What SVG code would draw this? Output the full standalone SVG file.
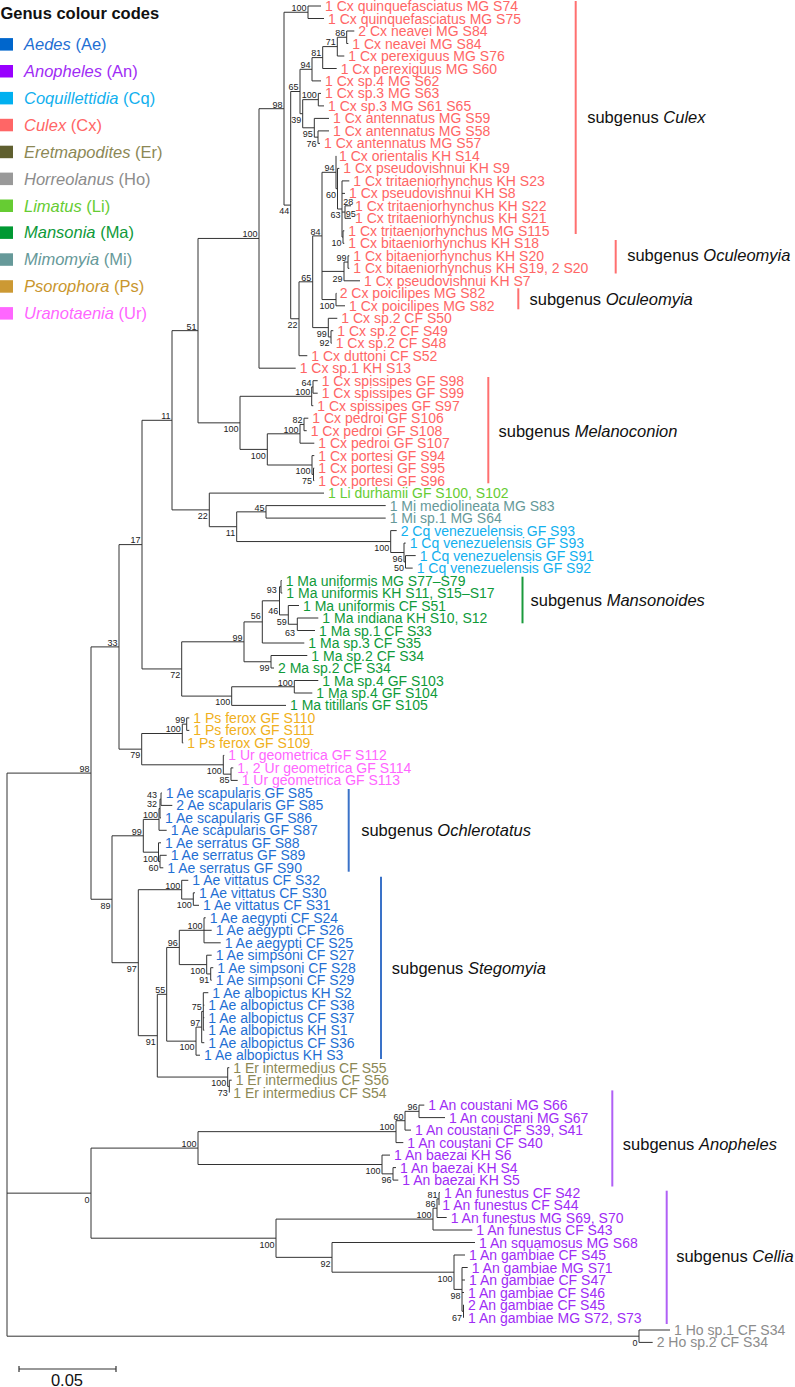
<svg xmlns="http://www.w3.org/2000/svg" width="795" height="1387" viewBox="0 0 795 1387">
<style>
.br{fill:none;stroke:#333;stroke-width:1}
.bs{font-family:"Liberation Sans",Arial,sans-serif;font-size:9px;fill:#222;text-anchor:end}
.bm{font-family:"Liberation Sans",Arial,sans-serif;font-size:9px;fill:#222;text-anchor:middle}
.lf{font-family:"Liberation Sans",Arial,sans-serif;font-size:14px}
.lg{font-family:"Liberation Sans",Arial,sans-serif;font-size:16.5px}
.sg{font-family:"Liberation Sans",Arial,sans-serif;font-size:16.5px;fill:#111}
.it{font-style:italic}
.bar{stroke-width:2}
.cx{fill:#ff6666}.li{fill:#66cc33}.mi{fill:#669999}.cq{fill:#12b0ee}.ma{fill:#0f9a3a}.ps{fill:#f0b020}.ur{fill:#ff66ff}.ae{fill:#1f6fd3}.er{fill:#8c8855}.an{fill:#9f2cf5}.ho{fill:#8c8c8c}
</style>
<rect width="795" height="1387" fill="#fff"/>
<g id="legend">
<text x="0.5" y="19.3" class="lg" font-weight="bold" fill="#111">Genus colour codes</text>
<rect x="0" y="38.1" width="13" height="12.5" fill="#0066cc"/><text x="24" y="50.1" class="lg ae"><tspan class="it">Aedes</tspan> (Ae)</text>
<rect x="0" y="65" width="13" height="12.5" fill="#9900ff"/><text x="24" y="77" class="lg an"><tspan class="it">Anopheles</tspan> (An)</text>
<rect x="0" y="91.9" width="13" height="12.5" fill="#00b0f0"/><text x="24" y="103.9" class="lg cq"><tspan class="it">Coquillettidia</tspan> (Cq)</text>
<rect x="0" y="118.8" width="13" height="12.5" fill="#ff6666"/><text x="24" y="130.8" class="lg cx"><tspan class="it">Culex</tspan> (Cx)</text>
<rect x="0" y="145.7" width="13" height="12.5" fill="#5f5f2f"/><text x="24" y="157.7" class="lg er"><tspan class="it">Eretmapodites</tspan> (Er)</text>
<rect x="0" y="172.6" width="13" height="12.5" fill="#999999"/><text x="24" y="184.6" class="lg ho"><tspan class="it">Horreolanus</tspan> (Ho)</text>
<rect x="0" y="199.5" width="13" height="12.5" fill="#66cc33"/><text x="24" y="211.5" class="lg li"><tspan class="it">Limatus</tspan> (Li)</text>
<rect x="0" y="226.4" width="13" height="12.5" fill="#009933"/><text x="24" y="238.4" class="lg ma"><tspan class="it">Mansonia</tspan> (Ma)</text>
<rect x="0" y="253.3" width="13" height="12.5" fill="#669999"/><text x="24" y="265.3" class="lg mi"><tspan class="it">Mimomyia</tspan> (Mi)</text>
<rect x="0" y="280.2" width="13" height="12.5" fill="#cc9933"/><text x="24" y="292.2" class="lg" fill="#c9962e"><tspan class="it">Psorophora</tspan> (Ps)</text>
<rect x="0" y="307.1" width="13" height="12.5" fill="#ff66ff"/><text x="24" y="319.1" class="lg ur"><tspan class="it">Uranotaenia</tspan> (Ur)</text>
</g>
<g id="connectors" class="br">
<path d="M308 6V18.5M308 6H321M308 18.5H324"/>
<path d="M284 12.25V205.1M284 12.25H308M284 205.1H290.7"/>
<path d="M346.7 31V43.5M346.7 31H354.3M346.7 43.5H348.3"/>
<path d="M337.3 37.25V56M337.3 37.25H346.7M337.3 56H344.3"/>
<path d="M322.7 46.6V68.5M322.7 46.6H337.3M322.7 68.5H336.7"/>
<path d="M312 57.6V80.9M312 57.6H322.7M312 80.9H321"/>
<path d="M318.3 93.4V105.9M318.3 93.4H321M318.3 105.9H324"/>
<path d="M318 130.9V143.4M318 130.9H329M318 143.4H320"/>
<path d="M314.3 118.4V137.15M314.3 118.4H329M314.3 137.15H318"/>
<path d="M302.7 99.65V127.8M302.7 99.65H318.3M302.7 127.8H314.3"/>
<path d="M300 69.3V113.7M300 69.3H312M300 113.7H302.7"/>
<path d="M290.7 91.5V318.75M290.7 91.5H300M290.7 318.75H299"/>
<path d="M345 205.8V218.3M345 205.8H351M345 218.3H351"/>
<path d="M343 230.8V243.3M343 230.8H344.3M343 243.3H344.3"/>
<path d="M342 180.9V237.05M342 180.9H349.3M342 193.4H345M342 212.05H345M342 237.05H343"/>
<path d="M337.5 168.4V209M337.5 168.4H339.3M337.5 209H342"/>
<path d="M336 155.9V188.7M336 188.7H337.5"/>
<path d="M348 255.8V268.3M348 255.8H349.3M348 268.3H349.3"/>
<path d="M344 262.05V280.8M344 262.05H348M344 280.8H360"/>
<path d="M336 293.3V305.8M336 293.3H336.5M336 305.8H345"/>
<path d="M322 172.3V299.55M322 172.3H336M322 271.4H344M322 299.55H336"/>
<path d="M331 330.7V343.2M331 330.7H333.3M331 343.2H331.7"/>
<path d="M328.3 318.3V336.95M328.3 318.3H337.3M328.3 336.95H331"/>
<path d="M312.7 235.9V327.6M312.7 235.9H322M312.7 327.6H328.3"/>
<path d="M299 281.8V355.7M299 281.8H312.7M299 355.7H307.3"/>
<path d="M259 108.7V368.2M259 108.7H284M259 368.2H295.7"/>
<path d="M313 380.7V393.2M313 380.7H317.7M313 393.2H317.7"/>
<path d="M311.7 386.95V405.7M311.7 386.95H313M311.7 405.7H313.3"/>
<path d="M304 418.2V430.7M304 418.2H308.3M304 430.7H306.7"/>
<path d="M300 424.45V443.2M300 424.45H304M300 443.2H314.3"/>
<path d="M313.5 468.1V480.6M313.5 468.1H314.3M313.5 480.6H314.3"/>
<path d="M312 455.6V474.35M312 455.6H314.3M312 474.35H313.5"/>
<path d="M267.3 433.8V465M267.3 433.8H300M267.3 465H312"/>
<path d="M240 396.3V449.4M240 396.3H311.7M240 449.4H267.3"/>
<path d="M198 238.45V422.85M198 238.45H259M198 422.85H240"/>
<path d="M266 505.6V518.1M266 505.6H385.7M266 518.1H385.7"/>
<path d="M405.5 555.6V568.1M405.5 555.6H415.7M405.5 568.1H412.7"/>
<path d="M404 543.1V561.85M404 543.1H405.7M404 561.85H405.5"/>
<path d="M390.7 530.6V552.5M390.7 530.6H396.7M390.7 552.5H404"/>
<path d="M236.7 511.85V541.55M236.7 511.85H266M236.7 541.55H390.7"/>
<path d="M209.3 493.1V526.7M209.3 493.1H324M209.3 526.7H236.7"/>
<path d="M172 330.65V509.9M172 330.65H198M172 509.9H209.3"/>
<path d="M281 580.5V593M281 580.5H281.7M281 593H282.3"/>
<path d="M297.3 618V630.5M297.3 618H318.3M297.3 630.5H315"/>
<path d="M288.3 605.5V624.25M288.3 605.5H299M288.3 624.25H297.3"/>
<path d="M279.5 586.75V614.9M279.5 586.75H281M279.5 614.9H288.3"/>
<path d="M262.3 600.8V643M262.3 600.8H279.5M262.3 643H304.3"/>
<path d="M271 655.5V668M271 655.5H307.3M271 668H274"/>
<path d="M244 621.9V661.75M244 621.9H262.3M244 661.75H271"/>
<path d="M294.3 680.5V693M294.3 680.5H318.3M294.3 693H312.3"/>
<path d="M231.7 686.75V705.4M231.7 686.75H294.3M231.7 705.4H286"/>
<path d="M181.7 641.8V696.1M181.7 641.8H244M181.7 696.1H231.7"/>
<path d="M142 420.3V668.95M142 420.3H172M142 668.95H181.7"/>
<path d="M186.7 717.9V730.4M186.7 717.9H189.3M186.7 730.4H189.3"/>
<path d="M182.3 724.15V742.9M182.3 724.15H186.7M182.3 742.9H183.3"/>
<path d="M231 767.9V780.4M231 767.9H233.3M231 780.4H237.7"/>
<path d="M223.3 755.4V774.15M223.3 755.4H224.3M223.3 774.15H231"/>
<path d="M141.7 733.5V764.8M141.7 733.5H182.3M141.7 764.8H223.3"/>
<path d="M119 544.6V749.15M119 544.6H142M119 749.15H141.7"/>
<path d="M161 792.9V805.4M161 792.9H161.7M161 805.4H172.3"/>
<path d="M160 799.15V817.9M160 799.15H161M160 817.9H161"/>
<path d="M159 808.5V830.3M159 808.5H160M159 830.3H166.7"/>
<path d="M160 855.3V867.8M160 855.3H166.7M160 867.8H163.3"/>
<path d="M158.5 842.8V861.55M158.5 842.8H161M158.5 861.55H160"/>
<path d="M143.3 819.4V852.2M143.3 819.4H159M143.3 852.2H158.5"/>
<path d="M193.3 892.8V905.3M193.3 892.8H195M193.3 905.3H199"/>
<path d="M181.7 880.3V899.05M181.7 880.3H188.3M181.7 899.05H193.3"/>
<path d="M204 917.8V942.8M204 917.8H205.7M204 930.3H211.7M204 942.8H220.7"/>
<path d="M210.7 967.7V980.2M210.7 967.7H213.3M210.7 980.2H211.7"/>
<path d="M206.7 955.2V973.95M206.7 955.2H211.7M206.7 973.95H210.7"/>
<path d="M179.3 930.3V964.6M179.3 930.3H204M179.3 964.6H206.7"/>
<path d="M203.3 992.7V1030.2M203.3 992.7H208.3M203.3 1005.2H204.3M203.3 1017.7H204.3M203.3 1030.2H204.3"/>
<path d="M201.7 1011.45V1042.7M201.7 1011.45H203.3M201.7 1042.7H204.3"/>
<path d="M196 1027.1V1055.2M196 1027.1H201.7M196 1055.2H200"/>
<path d="M166.7 947.45V1041.15M166.7 947.45H179.3M166.7 1041.15H196"/>
<path d="M229.3 1080.2V1092.6M229.3 1080.2H231.7"/>
<path d="M227.7 1067.7V1086.4M227.7 1067.7H229.3M227.7 1086.4H229.3"/>
<path d="M157.3 994.3V1077.05M157.3 994.3H166.7M157.3 1077.05H227.7"/>
<path d="M138.3 889.7V1035.7M138.3 889.7H181.7M138.3 1035.7H157.3"/>
<path d="M112 835.8V962.7M112 835.8H143.3M112 962.7H138.3"/>
<path d="M91 646.9V899.25M91 646.9H119M91 899.25H112"/>
<path d="M419 1105.1V1117.6M419 1105.1H424.3M419 1117.6H445"/>
<path d="M405 1111.35V1130.1M405 1111.35H419M405 1130.1H411"/>
<path d="M396 1120.7V1142.6M396 1120.7H405M396 1142.6H403.3"/>
<path d="M393 1167.6V1180.1M393 1167.6H396M393 1180.1H398.3"/>
<path d="M382 1155.1V1173.85M382 1155.1H390M382 1173.85H393"/>
<path d="M198 1131.65V1164.5M198 1131.65H396M198 1164.5H382"/>
<path d="M439 1192.6V1205.1M439 1192.6H440"/>
<path d="M437 1198.85V1217.5M437 1198.85H439M437 1217.5H446.7"/>
<path d="M433 1208.2V1230M433 1208.2H437M433 1230H472.3"/>
<path d="M463.5 1305V1317.5M463.5 1305H464M463.5 1317.5H464"/>
<path d="M462 1267.5V1311.25M462 1267.5H467.7M462 1280H465M462 1292.5H464M462 1311.25H463.5"/>
<path d="M454 1255V1289.4M454 1255H465M454 1289.4H462"/>
<path d="M332 1242.5V1272.2M332 1242.5H475M332 1272.2H454"/>
<path d="M276 1219.1V1257.35M276 1219.1H433M276 1257.35H332"/>
<path d="M91 1148.1V1238.2M91 1148.1H198M91 1238.2H276"/>
<path d="M639 1330V1342.4M639 1330H670M639 1342.4H652.7"/>
<path d="M7 773.1V1336.2M7 773.1H91M7 1193.15H91M7 1336.2H639"/>
</g>
<g id="support">
<text class="bs" x="306.5" y="11">100</text>
<text class="bs" x="345.2" y="36">86</text>
<text class="bs" x="335.8" y="45.4">71</text>
<text class="bs" x="321.2" y="56.4">81</text>
<text class="bs" x="310.5" y="68.1">94</text>
<text class="bs" x="298.5" y="90.3">65</text>
<text class="bs" x="282.5" y="107.5">98</text>
<text class="bs" x="316.8" y="98.4">100</text>
<text class="bs" x="301.2" y="123">39</text>
<text class="bs" x="312.8" y="137.1">95</text>
<text class="bs" x="316.5" y="146.5">76</text>
<text class="bs" x="334.5" y="171.1">94</text>
<text class="bs" x="336" y="198">60</text>
<text class="bm" x="348.3" y="204.9">28</text>
<text class="bm" x="350.7" y="216.5">95</text>
<text class="bs" x="340.5" y="218.3">63</text>
<text class="bs" x="341.5" y="246.3">10</text>
<text class="bs" x="346.5" y="260.9">99</text>
<text class="bs" x="342.5" y="281.5">29</text>
<text class="bs" x="320.5" y="234.9">84</text>
<text class="bs" x="289.2" y="214.4">44</text>
<text class="bs" x="311.2" y="280.6">65</text>
<text class="bs" x="334.5" y="308.9">100</text>
<text class="bs" x="297.5" y="328">22</text>
<text class="bs" x="326.8" y="336.9">99</text>
<text class="bs" x="329.5" y="346.3">92</text>
<text class="bs" x="257.5" y="237.3">100</text>
<text class="bs" x="196.5" y="329.6">51</text>
<text class="bs" x="311.5" y="385.8">64</text>
<text class="bs" x="310.2" y="395.1">100</text>
<text class="bs" x="302.5" y="423.3">82</text>
<text class="bs" x="298.5" y="432.6">100</text>
<text class="bs" x="238.5" y="432.2">100</text>
<text class="bs" x="265.8" y="458.7">100</text>
<text class="bs" x="310.5" y="474.3">100</text>
<text class="bs" x="312" y="483.7">75</text>
<text class="bs" x="170.5" y="419.1">11</text>
<text class="bs" x="207.8" y="519.2">22</text>
<text class="bs" x="264.5" y="510.7">45</text>
<text class="bs" x="235.2" y="536">11</text>
<text class="bs" x="389.2" y="550.9">100</text>
<text class="bs" x="402.5" y="561.8">96</text>
<text class="bs" x="404" y="571.2">50</text>
<text class="bm" x="271.7" y="592.5">93</text>
<text class="bm" x="273.3" y="613.9">46</text>
<text class="bm" x="281.7" y="624.9">59</text>
<text class="bm" x="290" y="635.5">63</text>
<text class="bs" x="260.8" y="619">56</text>
<text class="bs" x="242.5" y="640.6">99</text>
<text class="bs" x="269.5" y="671">99</text>
<text class="bs" x="180.2" y="678.2">72</text>
<text class="bs" x="292.8" y="685.5">100</text>
<text class="bs" x="230.2" y="705.4">100</text>
<text class="bs" x="140.5" y="543.4">17</text>
<text class="bs" x="117.5" y="645.7">33</text>
<text class="bs" x="185.2" y="723">99</text>
<text class="bs" x="180.8" y="732.3">100</text>
<text class="bs" x="140.2" y="758.4">79</text>
<text class="bs" x="221.8" y="774.1">100</text>
<text class="bs" x="229.5" y="783.4">85</text>
<text class="bs" x="89.5" y="772">98</text>
<text class="bs" x="157" y="798">43</text>
<text class="bs" x="157" y="807.3">32</text>
<text class="bs" x="158" y="818.2">100</text>
<text class="bs" x="141.8" y="834.6">99</text>
<text class="bs" x="158" y="861.5">100</text>
<text class="bs" x="158.5" y="870.8">60</text>
<text class="bs" x="110.5" y="908.5">89</text>
<text class="bs" x="180.2" y="888.5">100</text>
<text class="bs" x="191.8" y="908.4">100</text>
<text class="bs" x="202.5" y="929.1">100</text>
<text class="bs" x="177.8" y="946.3">96</text>
<text class="bs" x="205.2" y="973.9">100</text>
<text class="bs" x="209.2" y="983.2">91</text>
<text class="bs" x="136.8" y="972">97</text>
<text class="bs" x="165.2" y="993.1">55</text>
<text class="bs" x="201.8" y="1010.3">75</text>
<text class="bs" x="200.2" y="1025.9">97</text>
<text class="bs" x="194.5" y="1050.4">100</text>
<text class="bs" x="155.8" y="1045">91</text>
<text class="bs" x="226.2" y="1086.3">100</text>
<text class="bs" x="227.8" y="1095.7">73</text>
<text class="bs" x="417.5" y="1110.2">96</text>
<text class="bs" x="403.5" y="1119.5">60</text>
<text class="bs" x="394.5" y="1130.4">100</text>
<text class="bs" x="196.5" y="1146.9">100</text>
<text class="bs" x="380.5" y="1173.8">100</text>
<text class="bs" x="391.5" y="1183.2">96</text>
<text class="bs" x="89.5" y="1202.5">0</text>
<text class="bs" x="437.5" y="1197.7">81</text>
<text class="bs" x="435.5" y="1207">86</text>
<text class="bs" x="431.5" y="1217.9">100</text>
<text class="bs" x="274.5" y="1247.5">100</text>
<text class="bs" x="330.5" y="1266.7">92</text>
<text class="bs" x="452.5" y="1281.5">100</text>
<text class="bs" x="460.5" y="1298.7">98</text>
<text class="bs" x="462" y="1320.6">67</text>
<text class="bs" x="637.5" y="1345.5">0</text>
</g>
<g id="leaves" class="lf">
<g id="leaf-0"><text x="325" y="11" class="cx">1 Cx quinquefasciatus MG S74</text></g>
<g id="leaf-1"><text x="328" y="23.5" class="cx">1 Cx quinquefasciatus MG S75</text></g>
<g id="leaf-2"><text x="358.3" y="36" class="cx">2 Cx neavei MG S84</text></g>
<g id="leaf-3"><text x="352.3" y="48.5" class="cx">1 Cx neavei MG S84</text></g>
<g id="leaf-4"><text x="348.3" y="61" class="cx">1 Cx perexiguus MG S76</text></g>
<g id="leaf-5"><text x="340.7" y="73.5" class="cx">1 Cx perexiguus MG S60</text></g>
<g id="leaf-6"><text x="325" y="85.9" class="cx">1 Cx sp.4 MG S62</text></g>
<g id="leaf-7"><text x="325" y="98.4" class="cx">1 Cx sp.3 MG S63</text></g>
<g id="leaf-8"><text x="328" y="110.9" class="cx">1 Cx sp.3 MG S61 S65</text></g>
<g id="leaf-9"><text x="333" y="123.4" class="cx">1 Cx antennatus MG S59</text></g>
<g id="leaf-10"><text x="333" y="135.9" class="cx">1 Cx antennatus MG S58</text></g>
<g id="leaf-11"><text x="324" y="148.4" class="cx">1 Cx antennatus MG S57</text></g>
<g id="leaf-12"><text x="339" y="160.9" class="cx">1 Cx orientalis KH S14</text></g>
<g id="leaf-13"><text x="343.3" y="173.4" class="cx">1 Cx pseudovishnui KH S9</text></g>
<g id="leaf-14"><text x="353.3" y="185.9" class="cx">1 Cx tritaeniorhynchus KH S23</text></g>
<g id="leaf-15"><text x="349" y="198.4" class="cx">1 Cx pseudovishnui KH S8</text></g>
<g id="leaf-16"><text x="355" y="210.8" class="cx">1 Cx tritaeniorhynchus KH S22</text></g>
<g id="leaf-17"><text x="355" y="223.3" class="cx">1 Cx tritaeniorhynchus KH S21</text></g>
<g id="leaf-18"><text x="348.3" y="235.8" class="cx">1 Cx tritaeniorhynchus MG S115</text></g>
<g id="leaf-19"><text x="348.3" y="248.3" class="cx">1 Cx bitaeniorhynchus KH S18</text></g>
<g id="leaf-20"><text x="353.3" y="260.8" class="cx">1 Cx bitaeniorhynchus KH S20</text></g>
<g id="leaf-21"><text x="353.3" y="273.3" class="cx">1 Cx bitaeniorhynchus KH S19, 2 S20</text></g>
<g id="leaf-22"><text x="364" y="285.8" class="cx">1 Cx pseudovishnui KH S7</text></g>
<g id="leaf-23"><text x="339.7" y="298.3" class="cx">2 Cx poicilipes MG S82</text></g>
<g id="leaf-24"><text x="349" y="310.8" class="cx">1 Cx poicilipes MG S82</text></g>
<g id="leaf-25"><text x="341.3" y="323.3" class="cx">1 Cx sp.2 CF S50</text></g>
<g id="leaf-26"><text x="337.3" y="335.7" class="cx">1 Cx sp.2 CF S49</text></g>
<g id="leaf-27"><text x="335.7" y="348.2" class="cx">1 Cx sp.2 CF S48</text></g>
<g id="leaf-28"><text x="311.3" y="360.7" class="cx">1 Cx duttoni CF S52</text></g>
<g id="leaf-29"><text x="299.7" y="373.2" class="cx">1 Cx sp.1 KH S13</text></g>
<g id="leaf-30"><text x="321.7" y="385.7" class="cx">1 Cx spissipes GF S98</text></g>
<g id="leaf-31"><text x="321.7" y="398.2" class="cx">1 Cx spissipes GF S99</text></g>
<g id="leaf-32"><text x="317.3" y="410.7" class="cx">1 Cx spissipes GF S97</text></g>
<g id="leaf-33"><text x="312.3" y="423.2" class="cx">1 Cx pedroi GF S106</text></g>
<g id="leaf-34"><text x="310.7" y="435.7" class="cx">1 Cx pedroi GF S108</text></g>
<g id="leaf-35"><text x="318.3" y="448.2" class="cx">1 Cx pedroi GF S107</text></g>
<g id="leaf-36"><text x="318.3" y="460.6" class="cx">1 Cx portesi GF S94</text></g>
<g id="leaf-37"><text x="318.3" y="473.1" class="cx">1 Cx portesi GF S95</text></g>
<g id="leaf-38"><text x="318.3" y="485.6" class="cx">1 Cx portesi GF S96</text></g>
<g id="leaf-39"><text x="328" y="498.1" class="li">1 Li durhamii GF S100, S102</text></g>
<g id="leaf-40"><text x="389.7" y="510.6" class="mi">1 Mi mediolineata MG S83</text></g>
<g id="leaf-41"><text x="389.7" y="523.1" class="mi">1 Mi sp.1 MG S64</text></g>
<g id="leaf-42"><text x="400.7" y="535.6" class="cq">2 Cq venezuelensis GF S93</text></g>
<g id="leaf-43"><text x="409.7" y="548.1" class="cq">1 Cq venezuelensis GF S93</text></g>
<g id="leaf-44"><text x="419.7" y="560.6" class="cq">1 Cq venezuelensis GF S91</text></g>
<g id="leaf-45"><text x="416.7" y="573.1" class="cq">1 Cq venezuelensis GF S92</text></g>
<g id="leaf-46"><text x="285.7" y="585.5" class="ma">1 Ma uniformis MG S77–S79</text></g>
<g id="leaf-47"><text x="286.3" y="598" class="ma">1 Ma uniformis KH S11, S15–S17</text></g>
<g id="leaf-48"><text x="303" y="610.5" class="ma">1 Ma uniformis CF S51</text></g>
<g id="leaf-49"><text x="322.3" y="623" class="ma">1 Ma indiana KH S10, S12</text></g>
<g id="leaf-50"><text x="319" y="635.5" class="ma">1 Ma sp.1 CF S33</text></g>
<g id="leaf-51"><text x="308.3" y="648" class="ma">1 Ma sp.3 CF S35</text></g>
<g id="leaf-52"><text x="311.3" y="660.5" class="ma">1 Ma sp.2 CF S34</text></g>
<g id="leaf-53"><text x="278" y="673" class="ma">2 Ma sp.2 CF S34</text></g>
<g id="leaf-54"><text x="322.3" y="685.5" class="ma">1 Ma sp.4 GF S103</text></g>
<g id="leaf-55"><text x="316.3" y="698" class="ma">1 Ma sp.4 GF S104</text></g>
<g id="leaf-56"><text x="290" y="710.4" class="ma">1 Ma titillans GF S105</text></g>
<g id="leaf-57"><text x="193.3" y="722.9" class="ps">1 Ps ferox GF S110</text></g>
<g id="leaf-58"><text x="193.3" y="735.4" class="ps">1 Ps ferox GF S111</text></g>
<g id="leaf-59"><text x="187.3" y="747.9" class="ps">1 Ps ferox GF S109</text></g>
<g id="leaf-60"><text x="228.3" y="760.4" class="ur">1 Ur geometrica GF S112</text></g>
<g id="leaf-61"><text x="237.3" y="772.9" class="ur">1, 2 Ur geometrica GF S114</text></g>
<g id="leaf-62"><text x="241.7" y="785.4" class="ur">1 Ur geometrica GF S113</text></g>
<g id="leaf-63"><text x="165.7" y="797.9" class="ae">1 Ae scapularis GF S85</text></g>
<g id="leaf-64"><text x="176.3" y="810.4" class="ae">2 Ae scapularis GF S85</text></g>
<g id="leaf-65"><text x="165" y="822.9" class="ae">1 Ae scapularis GF S86</text></g>
<g id="leaf-66"><text x="170.7" y="835.3" class="ae">1 Ae scapularis GF S87</text></g>
<g id="leaf-67"><text x="165" y="847.8" class="ae">1 Ae serratus GF S88</text></g>
<g id="leaf-68"><text x="170.7" y="860.3" class="ae">1 Ae serratus GF S89</text></g>
<g id="leaf-69"><text x="167.3" y="872.8" class="ae">1 Ae serratus GF S90</text></g>
<g id="leaf-70"><text x="192.3" y="885.3" class="ae">1 Ae vittatus CF S32</text></g>
<g id="leaf-71"><text x="199" y="897.8" class="ae">1 Ae vittatus CF S30</text></g>
<g id="leaf-72"><text x="203" y="910.3" class="ae">1 Ae vittatus CF S31</text></g>
<g id="leaf-73"><text x="209.7" y="922.8" class="ae">1 Ae aegypti CF S24</text></g>
<g id="leaf-74"><text x="215.7" y="935.3" class="ae">1 Ae aegypti CF S26</text></g>
<g id="leaf-75"><text x="224.7" y="947.8" class="ae">1 Ae aegypti CF S25</text></g>
<g id="leaf-76"><text x="215.7" y="960.2" class="ae">1 Ae simpsoni CF S27</text></g>
<g id="leaf-77"><text x="217.3" y="972.7" class="ae">1 Ae simpsoni CF S28</text></g>
<g id="leaf-78"><text x="215.7" y="985.2" class="ae">1 Ae simpsoni CF S29</text></g>
<g id="leaf-79"><text x="212.3" y="997.7" class="ae">1 Ae albopictus KH S2</text></g>
<g id="leaf-80"><text x="208.3" y="1010.2" class="ae">1 Ae albopictus CF S38</text></g>
<g id="leaf-81"><text x="208.3" y="1022.7" class="ae">1 Ae albopictus CF S37</text></g>
<g id="leaf-82"><text x="208.3" y="1035.2" class="ae">1 Ae albopictus KH S1</text></g>
<g id="leaf-83"><text x="208.3" y="1047.7" class="ae">1 Ae albopictus CF S36</text></g>
<g id="leaf-84"><text x="204" y="1060.2" class="ae">1 Ae albopictus KH S3</text></g>
<g id="leaf-85"><text x="233.3" y="1072.7" class="er">1 Er intermedius CF S55</text></g>
<g id="leaf-86"><text x="235.7" y="1085.2" class="er">1 Er intermedius CF S56</text></g>
<g id="leaf-87"><text x="233.3" y="1097.6" class="er">1 Er intermedius CF S54</text></g>
<g id="leaf-88"><text x="428.3" y="1110.1" class="an">1 An coustani MG S66</text></g>
<g id="leaf-89"><text x="449" y="1122.6" class="an">1 An coustani MG S67</text></g>
<g id="leaf-90"><text x="415" y="1135.1" class="an">1 An coustani CF S39, S41</text></g>
<g id="leaf-91"><text x="407.3" y="1147.6" class="an">1 An coustani CF S40</text></g>
<g id="leaf-92"><text x="394" y="1160.1" class="an">1 An baezai KH S6</text></g>
<g id="leaf-93"><text x="400" y="1172.6" class="an">1 An baezai KH S4</text></g>
<g id="leaf-94"><text x="402.3" y="1185.1" class="an">1 An baezai KH S5</text></g>
<g id="leaf-95"><text x="444" y="1197.6" class="an">1 An funestus CF S42</text></g>
<g id="leaf-96"><text x="442.3" y="1210.1" class="an">1 An funestus CF S44</text></g>
<g id="leaf-97"><text x="450.7" y="1222.5" class="an">1 An funestus MG S69, S70</text></g>
<g id="leaf-98"><text x="476.3" y="1235" class="an">1 An funestus CF S43</text></g>
<g id="leaf-99"><text x="479" y="1247.5" class="an">1 An squamosus MG S68</text></g>
<g id="leaf-100"><text x="469" y="1260" class="an">1 An gambiae CF S45</text></g>
<g id="leaf-101"><text x="471.7" y="1272.5" class="an">1 An gambiae MG S71</text></g>
<g id="leaf-102"><text x="469" y="1285" class="an">1 An gambiae CF S47</text></g>
<g id="leaf-103"><text x="468" y="1297.5" class="an">1 An gambiae CF S46</text></g>
<g id="leaf-104"><text x="468" y="1310" class="an">2 An gambiae CF S45</text></g>
<g id="leaf-105"><text x="468" y="1322.5" class="an">1 An gambiae MG S72, S73</text></g>
<g id="leaf-106"><text x="674" y="1335" class="ho">1 Ho sp.1 CF S34</text></g>
<g id="leaf-107"><text x="656.7" y="1347.4" class="ho">2 Ho sp.2 CF S34</text></g>
</g>
<g id="subgenera">
<g id="sg-culex"><line class="bar" x1="575.7" y1="1" x2="575.7" y2="234" stroke="#ff7070"/><text class="sg" x="587.2" y="123.4">subgenus <tspan class="it">Culex</tspan></text></g>
<g id="sg-oculeomyia-1"><line class="bar" x1="615.7" y1="240" x2="615.7" y2="273.5" stroke="#ff7070"/><text class="sg" x="627.2" y="261.1">subgenus <tspan class="it">Oculeomyia</tspan></text></g>
<g id="sg-oculeomyia-2"><line class="bar" x1="518.3" y1="288.3" x2="518.3" y2="309.3" stroke="#ff7070"/><text class="sg" x="529.5" y="305">subgenus <tspan class="it">Oculeomyia</tspan></text></g>
<g id="sg-melanoconion"><line class="bar" x1="488.3" y1="377" x2="488.3" y2="483.3" stroke="#ff7070"/><text class="sg" x="498.5" y="436.7">subgenus <tspan class="it">Melanoconion</tspan></text></g>
<g id="sg-mansonoides"><line class="bar" x1="522.5" y1="576.7" x2="522.5" y2="623.3" stroke="#1a9a3c"/><text class="sg" x="530.5" y="606.3">subgenus <tspan class="it">Mansonoides</tspan></text></g>
<g id="sg-ochlerotatus"><line class="bar" x1="348.7" y1="789" x2="348.7" y2="871.7" stroke="#3a72c8"/><text class="sg" x="361.2" y="835.5">subgenus <tspan class="it">Ochlerotatus</tspan></text></g>
<g id="sg-stegomyia"><line class="bar" x1="381" y1="876.7" x2="381" y2="1059" stroke="#3a72c8"/><text class="sg" x="391.8" y="973.8">subgenus <tspan class="it">Stegomyia</tspan></text></g>
<g id="sg-anopheles"><line class="bar" x1="612.3" y1="1090.4" x2="612.3" y2="1186.5" stroke="#b060f5"/><text class="sg" x="622.8" y="1149.5">subgenus <tspan class="it">Anopheles</tspan></text></g>
<g id="sg-cellia"><line class="bar" x1="666.7" y1="1190.7" x2="666.7" y2="1324" stroke="#b060f5"/><text class="sg" x="676.2" y="1262.2">subgenus <tspan class="it">Cellia</tspan></text></g>
</g>
<g id="scale-bar">
<path d="M19 1369H116M19 1366V1372M116 1366V1372" fill="none" stroke="#333" stroke-width="1.2"/>
<text x="67" y="1385.8" class="sg" text-anchor="middle">0.05</text>
</g>
</svg>
